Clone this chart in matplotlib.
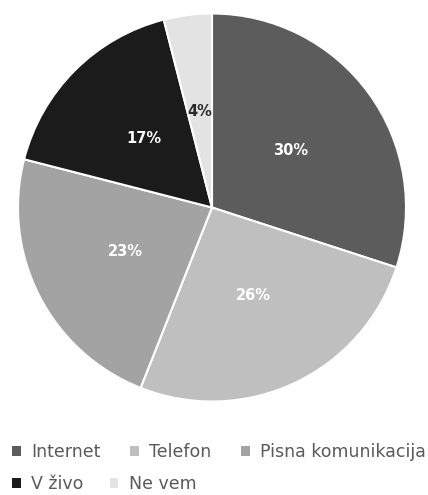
import matplotlib
matplotlib.use("Agg")
import matplotlib.pyplot as plt
from matplotlib.patches import Patch

categories = ["Internet", "Telefon", "Pisna komunikacija", "V živo", "Ne vem"]
shares = [30, 26, 23, 17, 4]
colors = ["#5c5c5c", "#bfbfbf", "#a3a3a3", "#1b1b1b", "#e3e3e3"]
label_colors = ["white", "white", "white", "white", "#2a2a2a"]

W, H = 428, 495
cx, cy, r = 212, 207.5, 194

fig = plt.figure(figsize=(W / 100, H / 100), dpi=100)
ax = fig.add_axes([(cx - r) / W, (H - cy - r) / H, 2 * r / W, 2 * r / H])

wedges, texts, autotexts = ax.pie(
    shares, colors=colors, startangle=90, counterclock=False,
    autopct=lambda p: f"{p:.0f}%", pctdistance=0.5,
    wedgeprops=dict(edgecolor="white", linewidth=1.5),
    textprops=dict(fontsize=10.5, fontweight="bold"),
)
for t, c in zip(autotexts, label_colors):
    t.set_color(c)
ax.set_xlim(-1, 1)
ax.set_ylim(-1, 1)
ax.set_aspect("equal")
ax.axis("off")

handles = [Patch(facecolor=c, edgecolor="none") for c in colors]
legend_style = dict(frameon=False, fontsize=12.5, handlelength=0.5, handleheight=0.5,
                    handletextpad=0.6, borderpad=0, borderaxespad=0)

leg1 = fig.legend(handles[:3], categories[:3], loc="center left",
                  bbox_to_anchor=(12 / W, 1 - 452 / H), ncol=3, columnspacing=1.7,
                  **legend_style)
leg2 = fig.legend(handles[3:], categories[3:], loc="center left",
                  bbox_to_anchor=(12 / W, 1 - 484 / H), ncol=2, columnspacing=1.5,
                  **legend_style)
for leg in (leg1, leg2):
    for t in leg.get_texts():
        t.set_color("#5a5a5a")

fig.savefig("out.png", dpi=100)
